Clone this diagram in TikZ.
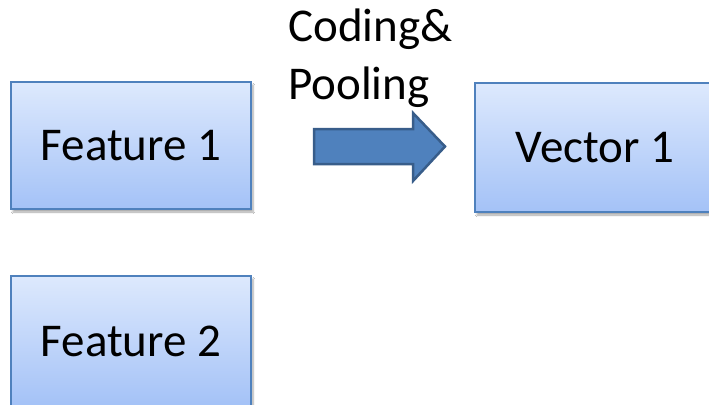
\documentclass[tikz,border=0pt]{standalone}
\usepackage{fontspec}
\setmainfont{Carlito}
\usetikzlibrary{shadows.blur}
\definecolor{boxtop}{RGB}{221,233,253}
\definecolor{boxbot}{RGB}{164,194,247}
\definecolor{boxline}{RGB}{79,129,189}
\definecolor{arrfill}{RGB}{79,129,189}
\definecolor{arrline}{RGB}{56,93,138}
\tikzset{
  bluebox/.style={draw=boxline, line width=2pt, top color=boxtop, bottom color=boxbot,
    minimum width=240pt, inner sep=0pt, font=\fontsize{47}{56}\selectfont,
    blur shadow={shadow xshift=2pt, shadow yshift=-3pt, shadow blur steps=6, shadow opacity=35}},
  lbl/.style={anchor=base west, inner sep=0pt, font=\fontsize{47}{56}\selectfont},
  blockarrow/.style={draw=arrline, fill=arrfill, line width=2.5pt, line join=miter}
}
\begin{document}
\begin{tikzpicture}[x=1pt,y=-1pt]
\useasboundingbox (0,0) rectangle (709,404);
\clip (0,0) rectangle (709,404);
\fill[white] (0,0) rectangle (709,404);
\node[bluebox, minimum height=127pt] (f1) at (131,145.5) {Feature 1};
\node[bluebox, minimum height=130pt] (f2) at (131,341) {Feature 2};
\node[bluebox, minimum height=129pt] (v1) at (595,147.5) {Vector 1};
\coordinate (a1) at (314,129);
\coordinate (a2) at (413,129);
\coordinate (a3) at (413,113);
\coordinate (tip) at (445,146.5);
\coordinate (a5) at (413,181);
\coordinate (a6) at (413,164);
\coordinate (a7) at (314,164);
\draw[blockarrow] (a1) -- (a2) -- (a3) -- (tip) -- (a5) -- (a6) -- (a7) -- cycle;
\node[lbl] (lab1) at (288,42) {Coding\&};
\node[lbl] (lab2) at (288,99) {Pooling};
\end{tikzpicture}
\end{document}
